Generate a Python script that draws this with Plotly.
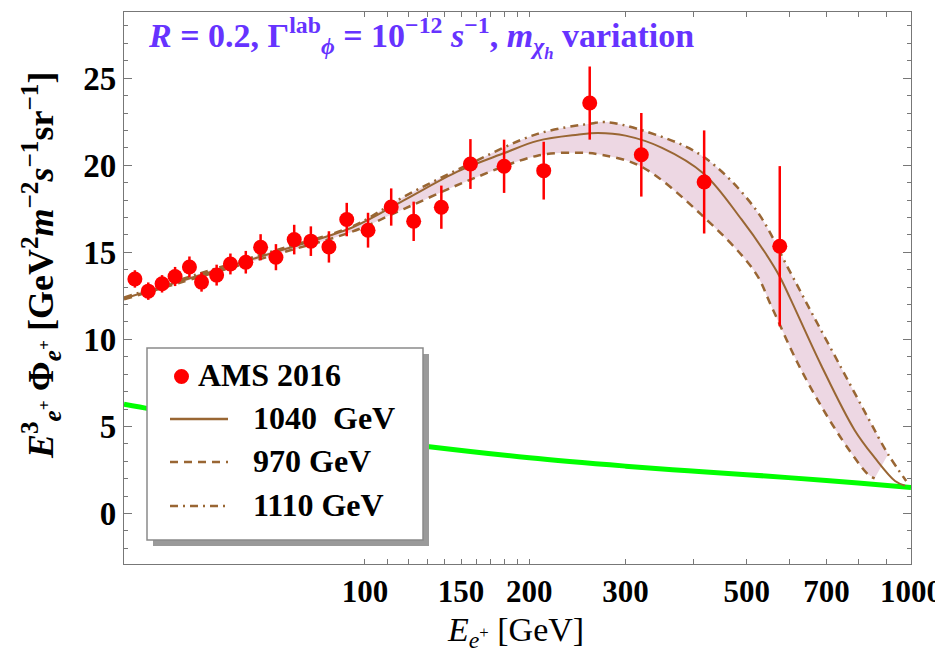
import plotly.graph_objects as go

# ---- data ----
E_ams = [37.9, 40.1, 42.5, 44.9, 47.7, 50.2, 53.5, 56.7, 60.5, 64.4, 68.7, 74.2, 79.6,
         85.9, 92.6, 101.3, 111.7, 122.8, 138, 156, 179.8, 212.5, 258, 320.7, 418, 575]
flux_ams = [13.47, 12.77, 13.19, 13.61, 14.16, 13.29, 13.69, 14.33, 14.43, 15.29, 14.72,
            15.73, 15.64, 15.31, 16.88, 16.27, 17.60, 16.78, 17.59, 20.07, 19.94, 19.69,
            23.57, 20.60, 19.04, 15.35]
err_ams = [0.5, 0.5, 0.5, 0.55, 0.6, 0.55, 0.6, 0.6, 0.65, 0.75, 0.75, 0.85, 0.85, 0.9,
           0.96, 1.0, 1.07, 1.13, 1.24, 1.43, 1.53, 1.66, 2.1, 2.4, 2.96, 4.6]

E_1040 = [36.2, 50, 70, 95, 118, 148, 180, 207, 245, 267, 300, 350, 418, 489, 540, 575,
          600, 685, 788, 858, 935, 975]
Y_1040 = [12.35, 13.7, 15.1, 16.44, 18.0, 19.65, 20.7, 21.4, 21.75, 21.85, 21.7, 21.0,
          19.5, 16.9, 15.0, 13.6, 12.4, 8.5, 4.8, 3.21, 1.87, 1.6]

E_970 = [36.2, 50, 70, 95, 118, 156, 207, 245, 271, 320, 413, 517, 555, 621, 705, 788, 834, 858]
Y_970 = [12.3, 13.6, 14.95, 16.2, 17.5, 19.17, 20.55, 20.72, 20.6, 19.94, 17.16, 13.9,
         11.9, 8.6, 5.5, 3.21, 2.25, 2.02]

E_1110 = [36.2, 50, 70, 95, 118, 156, 207, 260, 275, 320, 413, 517, 600, 656, 745, 834, 908, 980]
Y_1110 = [12.4, 13.8, 15.2, 16.5, 18.2, 20.1, 21.8, 22.4, 22.48, 22.03, 20.57, 17.55,
          13.9, 11.6, 8.37, 5.5, 3.4, 1.87]

E_bg = [36.2, 45, 60, 80, 100, 130, 200, 300, 391, 500, 596, 800, 1000]
Y_bg = [6.27, 5.75, 5.2, 4.7, 4.3, 3.85, 3.2, 2.72, 2.45, 2.23, 2.06, 1.75, 1.49]

x_tickvals = [100, 110, 120, 130, 140, 150, 160, 170, 180, 190, 200, 300, 400, 500, 600,
              700, 800, 900, 1000]
x_ticklabels = {100: "100", 150: "150", 200: "200", 300: "300", 500: "500", 700: "700", 1000: "1000"}
y_tickvals = [0, 5, 10, 15, 20, 25]

legend_labels = ["AMS 2016", "1040  GeV", "970 GeV", "1110 GeV"]

BROWN = "#996633"
FONT = "Liberation Serif"

fig = go.Figure()

# band between 970 GeV and 1110 GeV curves
fig.add_trace(go.Scatter(x=E_970, y=Y_970, mode="lines", line=dict(width=0, shape="spline"),
                         hoverinfo="skip", showlegend=False))
fig.add_trace(go.Scatter(x=E_1110[:-1], y=Y_1110[:-1], mode="lines",
                         line=dict(width=0, shape="spline"), fill="tonexty",
                         fillcolor="rgb(237,215,227)", hoverinfo="skip", showlegend=False))

fig.add_trace(go.Scatter(x=E_bg, y=Y_bg, mode="lines",
                         line=dict(color="#00FF00", width=5, shape="spline"), showlegend=False))

fig.add_trace(go.Scatter(x=E_1040, y=Y_1040, mode="lines",
                         line=dict(color=BROWN, width=2, shape="spline"), showlegend=False))
fig.add_trace(go.Scatter(x=E_970, y=Y_970, mode="lines",
                         line=dict(color=BROWN, width=2.5, shape="spline", dash="8px,6px"),
                         showlegend=False))
fig.add_trace(go.Scatter(x=E_1110, y=Y_1110, mode="lines",
                         line=dict(color=BROWN, width=2.5, shape="spline", dash="8px,5px,2px,5px"),
                         showlegend=False))

fig.add_trace(go.Scatter(x=E_ams, y=flux_ams, mode="markers",
                         marker=dict(color="#FF0000", size=15),
                         error_y=dict(type="data", array=err_ams, color="#FF0000",
                                      thickness=2.5, width=0),
                         showlegend=False))

# ---- layout geometry (pixels) ----
W, H = 943, 657
L, R, T, B = 116, 903, 4, 556


def px(x):
    return (x - L) / (R - L)


def py(y):
    return (B - y) / (B - T)


shapes = []
annotations = []

# legend box with shadow
shapes.append(dict(type="rect", xref="paper", yref="paper", x0=px(145), x1=px(421),
                   y0=py(538), y1=py(346), fillcolor="#9a9a9a", line=dict(width=0), layer="above"))
shapes.append(dict(type="rect", xref="paper", yref="paper", x0=px(139), x1=px(415),
                   y0=py(532), y1=py(340), fillcolor="white",
                   line=dict(color="#8a8a8a", width=1.5), layer="above"))
shapes.append(dict(type="circle", xref="paper", yref="paper", x0=px(166), x1=px(181),
                   y0=py(376), y1=py(361), fillcolor="#FF0000", line=dict(width=0), layer="above"))
for yy, dash in [(411, "solid"), (454, "8px,6px"), (498, "8px,5px,2px,5px")]:
    shapes.append(dict(type="line", xref="paper", yref="paper", x0=px(162), x1=px(220),
                       y0=py(yy), y1=py(yy), line=dict(color=BROWN, width=2.5, dash=dash),
                       layer="above"))

legend_text_pos = [(188, 367), (243, 410), (243, 453), (243, 497)]
for lab, (xx, yy) in zip(legend_labels, legend_text_pos):
    annotations.append(dict(xref="paper", yref="paper", x=px(xx), y=py(yy), text="<b>%s</b>" % lab,
                            showarrow=False, xanchor="left", yanchor="middle",
                            font=dict(family=FONT, size=32, color="black")))

# title inside plot
annotations.append(dict(
    xref="paper", yref="paper", x=px(138), y=py(30), xanchor="left", yanchor="middle",
    showarrow=False,
    text="<b><i>R</i> = 0.2, Γ<sup>lab</sup><sub><i>ϕ</i></sub> = 10<sup>−12</sup> "
         "<i>s</i><sup>−1</sup>, <i>m</i><sub><i>χ<sub>h</sub></i></sub> variation</b>",
    font=dict(family=FONT, size=34, color="#6633FF")))

# axis titles
annotations.append(dict(
    xref="paper", yref="paper", x=px(507), y=py(624), xanchor="center", yanchor="middle",
    showarrow=False, text="<i>E</i><sub><i>e</i><sup>+</sup></sub> [GeV]",
    font=dict(family=FONT, size=34, color="black")))
annotations.append(dict(
    xref="paper", yref="paper", x=px(33), y=py(258), xanchor="center", yanchor="middle",
    showarrow=False, textangle=-90,
    text="<b><i>E</i><sup>3</sup><sub><i>e</i><sup>+</sup></sub> Φ<sub><i>e</i><sup>+</sup></sub> "
         "[GeV<sup>2</sup><i>m</i><sup>−2</sup><i>s</i><sup>−1</sup>sr<sup>−1</sup>]</b>",
    font=dict(family=FONT, size=36, color="black")))

axis_common = dict(showgrid=False, zeroline=False, showline=True, linecolor="#777777",
                   linewidth=1.3, mirror="ticks", ticks="inside", tickcolor="#777777")

fig.update_layout(
    width=W, height=H, plot_bgcolor="white", paper_bgcolor="white",
    margin=dict(l=L, r=W - R, t=T, b=H - B),
    showlegend=False, shapes=shapes, annotations=annotations,
    xaxis=dict(type="log", range=[1.5587, 3.0], tickvals=x_tickvals,
               ticktext=["<b>%s</b>" % x_ticklabels[v] if v in x_ticklabels else ""
                         for v in x_tickvals],
               ticklen=5, tickfont=dict(family=FONT, size=31, color="black"), **axis_common),
    yaxis=dict(range=[-2.9, 28.8], tickvals=y_tickvals,
               ticktext=["<b>%d</b>" % v for v in y_tickvals], ticklen=8,
               tickfont=dict(family=FONT, size=33, color="black"),
               minor=dict(dtick=1, ticklen=4, ticks="inside", tickcolor="#777777"),
               **axis_common),
)

fig.write_html("out.html")
